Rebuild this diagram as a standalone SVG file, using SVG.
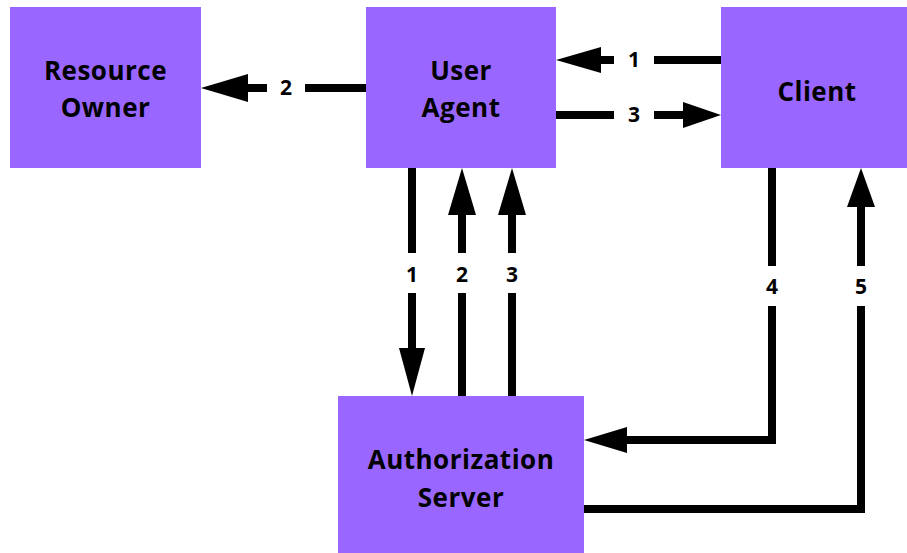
<svg xmlns="http://www.w3.org/2000/svg" width="907" height="553" viewBox="0 0 907 553">
  <style>
    .box { fill: #9966FF; }
    .name { font-family: "Open Sans", "Liberation Sans", sans-serif; font-weight: 700; font-size: 26px; letter-spacing: 0.5px; fill: #000; text-anchor: middle; }
    .num { font-family: "Open Sans", "Liberation Sans", sans-serif; font-weight: 700; font-size: 21px; fill: #000; text-anchor: middle; }
    .wire { fill: none; stroke: #000; stroke-width: 8; }
    .head { fill: #000; }
  </style>
  <rect width="907" height="553" fill="#fff"/>

  <g id="resource-owner">
    <rect class="box" x="10" y="7" width="191" height="161"/>
    <text class="name" x="105.5" y="80">Resource</text>
    <text class="name" x="105.5" y="117">Owner</text>
  </g>

  <g id="user-agent">
    <rect class="box" x="366" y="7" width="190" height="161"/>
    <text class="name" x="461" y="80">User</text>
    <text class="name" x="461" y="117">Agent</text>
  </g>

  <g id="client">
    <rect class="box" x="721" y="7" width="192" height="161"/>
    <text class="name" x="817" y="101">Client</text>
  </g>

  <g id="authorization-server">
    <rect class="box" x="338" y="396" width="246" height="165"/>
    <text class="name" x="461" y="469">Authorization</text>
    <text class="name" x="461" y="507">Server</text>
  </g>

  <g id="connectors">
    <!-- User Agent -> Resource Owner (2) -->
    <path class="wire" d="M366 88H305M267 88H246"/>
    <polygon class="head" points="201,88 248,74 248,102"/>
    <text class="num" x="286" y="95">2</text>

    <!-- Client -> User Agent (1) -->
    <path class="wire" d="M721 60H654M614 60H599"/>
    <polygon class="head" points="556,60 601,47 601,73"/>
    <text class="num" x="634" y="67">1</text>

    <!-- User Agent -> Client (3) -->
    <path class="wire" d="M556 115H614M654 115H685"/>
    <polygon class="head" points="721,115 683,102 683,128"/>
    <text class="num" x="634" y="122">3</text>

    <!-- User Agent -> Authorization Server (1) -->
    <path class="wire" d="M412 168V253M412 293V350"/>
    <polygon class="head" points="412,396 399,348 425,348"/>
    <text class="num" x="412" y="282">1</text>

    <!-- Authorization Server -> User Agent (2) -->
    <path class="wire" d="M462 396V293M462 253V213"/>
    <polygon class="head" points="462,168 448,215 476,215"/>
    <text class="num" x="462" y="282">2</text>

    <!-- Authorization Server -> User Agent (3) -->
    <path class="wire" d="M512 396V293M512 253V213"/>
    <polygon class="head" points="512,168 498,215 526,215"/>
    <text class="num" x="512" y="282">3</text>

    <!-- Client -> Authorization Server (4) -->
    <path class="wire" d="M772 168V266M772 306V440H625"/>
    <polygon class="head" points="584,440 627,427 627,453"/>
    <text class="num" x="772" y="294">4</text>

    <!-- Authorization Server -> Client (5) -->
    <path class="wire" d="M584 509H861V306M861 266V205"/>
    <polygon class="head" points="861,168 847,207 875,207"/>
    <text class="num" x="861" y="294">5</text>
  </g>
</svg>
